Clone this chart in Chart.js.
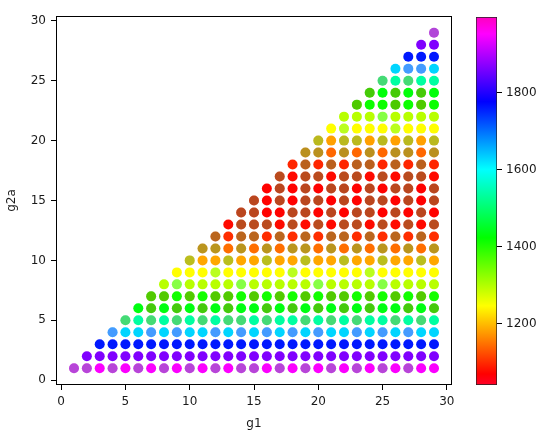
<!DOCTYPE html>
<html>
<head>
<meta charset="utf-8">
<script src="https://cdn.jsdelivr.net/npm/chart.js@4"></script>
<style>
  html, body { margin: 0; padding: 0; background: #fff; }
  #wrap { position: relative; width: 550px; height: 438px; }
  #main { position: absolute; left: 0; top: 0; }
  #cbar { position: absolute; left: 470px; top: 0; }
</style>
</head>
<body>
<div id="wrap">
  <canvas id="main" width="550" height="438"></canvas>
  <canvas id="cbar" width="80" height="438"></canvas>
</div>
<script>
// ── Data ──────────────────────────────────────────────────────────────────────
const G1_VALUES  = [1, 2, 3, 4, 5, 6, 7, 8, 9, 10, 11, 12, 13, 14, 15, 16, 17, 18, 19, 20,
                    21, 22, 23, 24, 25, 26, 27, 28, 29];
const G2A_ROWS   = [1, 2, 3, 4, 5, 6, 7, 8, 9, 10, 11, 12, 13, 14, 15, 16, 17, 18, 19, 20,
                    21, 22, 23, 24, 25, 26, 27, 28, 29];

// dominant value on each g2a row
const MAIN_VALUE = [1950, 1865, 1760, 1630, 1535, 1435, 1410, 1295, 1245, 1185,
                    1145, 1100, 1075, 1070, 1070, 1070, 1075, 1095, 1140, 1180,
                    1245, 1295, 1415, 1430, 1535, 1630, 1760, 1865, 1945];

// second (overlapping) observation on a row, where one exists
const SECOND_VALUE = [1500, 1865, 1760, 1950, 1150, 1110, 1110, 1600, 1500, 1500,
                      1500, 1500, 1500, 1500, 1500, 1500, 1500, 1500, 1500, 1500,
                      1500, 1600, 1110, 1110, 1150, 1950, 1760, 1865, 1500];

// g1 columns on each row that carry that second observation
const MIXED_G1 = [
    [1, 2, 4, 6, 8, 10, 12, 14, 15, 17, 19, 21, 23, 25, 27],
    [],
    [],
    [4, 7, 9, 12, 14, 16, 18, 20, 23, 25, 27],
    [5, 7, 9, 11, 13, 14, 16, 19, 21, 23, 26, 28],
    [7, 9, 11, 13, 16, 18, 20, 22, 24, 27, 29],
    [7, 8, 10, 12, 13, 15, 17, 19, 21, 22, 24, 26, 28],
    [9, 14, 20, 25],
    [12, 18, 24],
    [10, 13, 16, 19, 22, 25, 28],
    [11, 12, 14, 16, 18, 19, 21, 23, 25, 27, 29],
    [12, 14, 15, 17, 19, 21, 22, 24, 26, 28],
    [14, 15, 16, 18, 20, 22, 23, 25, 27, 29],
    [14, 15, 18, 19, 21, 23, 24, 26, 28],
    [15, 17, 19, 20, 22, 24, 25, 27, 29],
    [17, 19, 21, 22, 24, 26, 27, 29],
    [17, 19, 20, 22, 23, 25, 27, 28],
    [19, 21, 23, 24, 26, 28],
    [19, 20, 22, 24, 26, 27, 29],
    [20, 22, 23, 25, 27, 29],
    [22, 26],
    [25],
    [23, 26, 28],
    [24, 26, 28],
    [25, 27],
    [27, 28],
    [],
    [],
    [29]
];

const X_TICKS  = [0, 5, 10, 15, 20, 25, 30];
const Y_TICKS  = [0, 5, 10, 15, 20, 25, 30];
const CB_TICKS = [1200, 1400, 1600, 1800];
const CB_MIN = 1040, CB_MAX = 1997;

// ── Colormap (gist_rainbow) ───────────────────────────────────────────────────
const CMAP = [
    [0.000, [1.00, 0.00, 0.16]],
    [0.030, [1.00, 0.00, 0.00]],
    [0.215, [1.00, 1.00, 0.00]],
    [0.400, [0.00, 1.00, 0.00]],
    [0.586, [0.00, 1.00, 1.00]],
    [0.770, [0.00, 0.00, 1.00]],
    [0.954, [1.00, 0.00, 1.00]],
    [1.000, [1.00, 0.00, 0.75]],
];

function cmapRgb(t) {
    t = Math.max(0, Math.min(1, t));
    for (let i = 1; i < CMAP.length; i++) {
        const [t1, c1] = CMAP[i];
        const [t0, c0] = CMAP[i - 1];
        if (t <= t1) {
            const f = (t - t0) / (t1 - t0);
            return c0.map((c, k) => Math.round(255 * (c + (c1[k] - c) * f)));
        }
    }
    return CMAP[CMAP.length - 1][1].map(c => Math.round(255 * c));
}
function valueColor(v, alpha) {
    const [r, g, b] = cmapRgb((v - CB_MIN) / (CB_MAX - CB_MIN));
    return `rgba(${r},${g},${b},${alpha})`;
}

// ── Points ────────────────────────────────────────────────────────────────────
const mainPoints = [];
const secondPoints = [];
G2A_ROWS.forEach((row, i) => {
    G1_VALUES.forEach(g1 => {
        if (g1 < row) return;
        mainPoints.push({ x: g1, y: row, v: MAIN_VALUE[i] });
        if (MIXED_G1[i].includes(g1)) secondPoints.push({ x: g1, y: row, v: SECOND_VALUE[i] });
    });
});

// ── Chart defaults ────────────────────────────────────────────────────────────
Chart.defaults.font.family = "'DejaVu Sans', sans-serif";
Chart.defaults.font.size   = 12;
Chart.defaults.color       = '#1a1a1a';

const fixedTicks = list => scale => { scale.ticks = list.map(v => ({ value: v })); };

const framePlugin = {
    id: 'frame',
    afterDraw(chart) {
        const { ctx, chartArea: a } = chart;
        ctx.save();
        ctx.strokeStyle = '#000';
        ctx.lineWidth = 1;
        ctx.strokeRect(Math.round(a.left) + 0.5, Math.round(a.top) + 0.5,
                       Math.round(a.right - a.left) - 1, Math.round(a.bottom - a.top) - 1);
        ctx.restore();
    }
};

const tickGrid = { drawOnChartArea: false, drawTicks: true, tickLength: 5, color: '#000', lineWidth: 1 };

// ── Main scatter ──────────────────────────────────────────────────────────────
new Chart(document.getElementById('main'), {
    type: 'scatter',
    data: {
        datasets: [
            {
                data: mainPoints,
                order: 2,
                pointRadius: 5, pointHoverRadius: 5, pointBorderWidth: 0,
                pointBackgroundColor: c => c.raw ? valueColor(c.raw.v, 1) : '#f00',
            },
            {
                data: secondPoints,
                order: 1,
                pointRadius: 5, pointHoverRadius: 5, pointBorderWidth: 0,
                pointBackgroundColor: c => c.raw ? valueColor(c.raw.v, 0.27) : '#0f0',
            }
        ]
    },
    options: {
        responsive: false,
        animation: false,
        devicePixelRatio: 1,
        layout: { padding: { top: 16, right: 98, left: 0, bottom: 0 } },
        plugins: { legend: { display: false }, tooltip: { enabled: false } },
        scales: {
            x: {
                type: 'linear', min: -0.4, max: 30.4,
                afterBuildTicks: fixedTicks(X_TICKS),
                afterFit: s => { s.height = 53; },
                grid: tickGrid,
                border: { display: false },
                ticks: { padding: 5, maxRotation: 0, color: '#1a1a1a' },
                title: { display: true, text: 'g1', color: '#1a1a1a', padding: { top: 0, bottom: 7 } }
            },
            y: {
                type: 'linear', min: -0.4, max: 30.4,
                afterBuildTicks: fixedTicks(Y_TICKS),
                afterFit: s => { s.width = 56; },
                grid: tickGrid,
                border: { display: false },
                ticks: { padding: 5, color: '#1a1a1a' },
                title: { display: true, text: 'g2a', color: '#1a1a1a', padding: { top: 5, bottom: 0 } }
            }
        }
    },
    plugins: [framePlugin]
});

// ── Colorbar ──────────────────────────────────────────────────────────────────
function cbGradient(c) {
    const chart = c.chart;
    const y = chart.scales.y;
    if (!chart.chartArea || !y) return '#f00';
    const g = chart.ctx.createLinearGradient(0, y.getPixelForValue(CB_MIN), 0, y.getPixelForValue(CB_MAX));
    CMAP.forEach(([t, rgb]) => g.addColorStop(t, `rgb(${rgb.map(v => Math.round(v * 255)).join(',')})`));
    return g;
}

new Chart(document.getElementById('cbar'), {
    type: 'bar',
    data: {
        labels: [''],
        datasets: [{
            data: [[CB_MIN, CB_MAX]],
            backgroundColor: cbGradient,
            borderColor: '#222',
            borderWidth: 1,
            borderSkipped: false,
            barPercentage: 1,
            categoryPercentage: 1
        }]
    },
    options: {
        responsive: false,
        animation: false,
        devicePixelRatio: 1,
        layout: { padding: { top: 17, left: 6, right: 0, bottom: 53 } },
        plugins: { legend: { display: false }, tooltip: { enabled: false } },
        scales: {
            x: { display: false },
            y: {
                position: 'right', min: CB_MIN, max: CB_MAX,
                afterBuildTicks: fixedTicks(CB_TICKS),
                afterFit: s => { s.width = 53; },
                grid: tickGrid,
                border: { display: false },
                ticks: { padding: 4, color: '#1a1a1a', callback: v => String(v) }
            }
        }
    }
});
</script>
</body>
</html>
